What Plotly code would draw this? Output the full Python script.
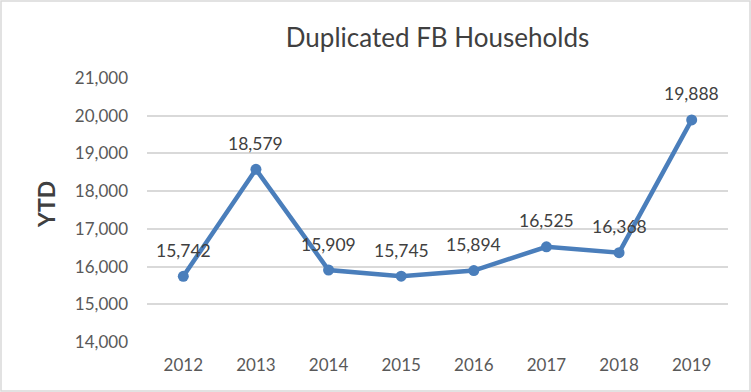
import plotly.graph_objects as go

years = ["2012", "2013", "2014", "2015", "2016", "2017", "2018", "2019"]
ytd = [15742, 18579, 15909, 15745, 15894, 16525, 16368, 19888]
labels = [f"{v:,}" for v in ytd]

W, H = 751, 392
L, R, T, B = 147, 23, 78, 50
pw, ph = W - L - R, H - T - B
FONT = "Lato, Open Sans, sans-serif"

fig = go.Figure()
fig.add_trace(go.Scatter(
    x=years, y=ytd, mode="lines+markers",
    line=dict(color="#4a7ebb", width=4.5),
    marker=dict(size=11, color="#4a7ebb"),
    cliponaxis=False, showlegend=False, hoverinfo="skip",
))

for i, (y, t) in enumerate(zip(ytd, labels)):
    fig.add_annotation(x=i, y=y, text=t, showarrow=False, yshift=26,
                       xanchor="center", yanchor="middle",
                       font=dict(size=17.5, color="#404040", family=FONT))

fig.update_layout(
    width=W, height=H,
    margin=dict(l=L, r=R, t=T, b=B),
    paper_bgcolor="white", plot_bgcolor="white",
    font=dict(family=FONT, color="#595959"),
    title=dict(text="Duplicated FB Households", x=0.5, xref="paper", y=1 - 38 / H,
               yanchor="middle", xanchor="center",
               font=dict(size=26, color="#404040")),
    xaxis=dict(type="category", range=[-0.5, 7.5], showgrid=False, showline=False,
               ticks="", tickfont=dict(size=17, color="#595959"), zeroline=False,
               automargin=False, ticklabelstandoff=11),
    yaxis=dict(range=[14000, 21000], dtick=1000, tickformat=",", showgrid=True,
               gridcolor="#d9d9d9", gridwidth=1.5, zeroline=False, showline=False,
               ticks="", ticklen=0, tickfont=dict(size=17, color="#595959"),
               automargin=False, ticklabelstandoff=18),
)

fig.add_annotation(xref="paper", yref="paper", x=(46 - L) / pw, y=(H - B - 205) / ph,
                   text="<b>YTD</b>", textangle=-90, showarrow=False,
                   xanchor="center", yanchor="middle",
                   font=dict(size=23, color="#404040", family=FONT))

fig.add_shape(type="rect", xref="paper", yref="paper",
              x0=(-L + 1) / pw, x1=1 + (R - 1) / pw,
              y0=(-B + 1) / ph, y1=1 + (T - 1) / ph,
              line=dict(color="#d9d9d9", width=1.5), layer="below")

fig.write_html("out.html", config={"displayModeBar": False},
               post_script="document.body.style.margin='0px';")
